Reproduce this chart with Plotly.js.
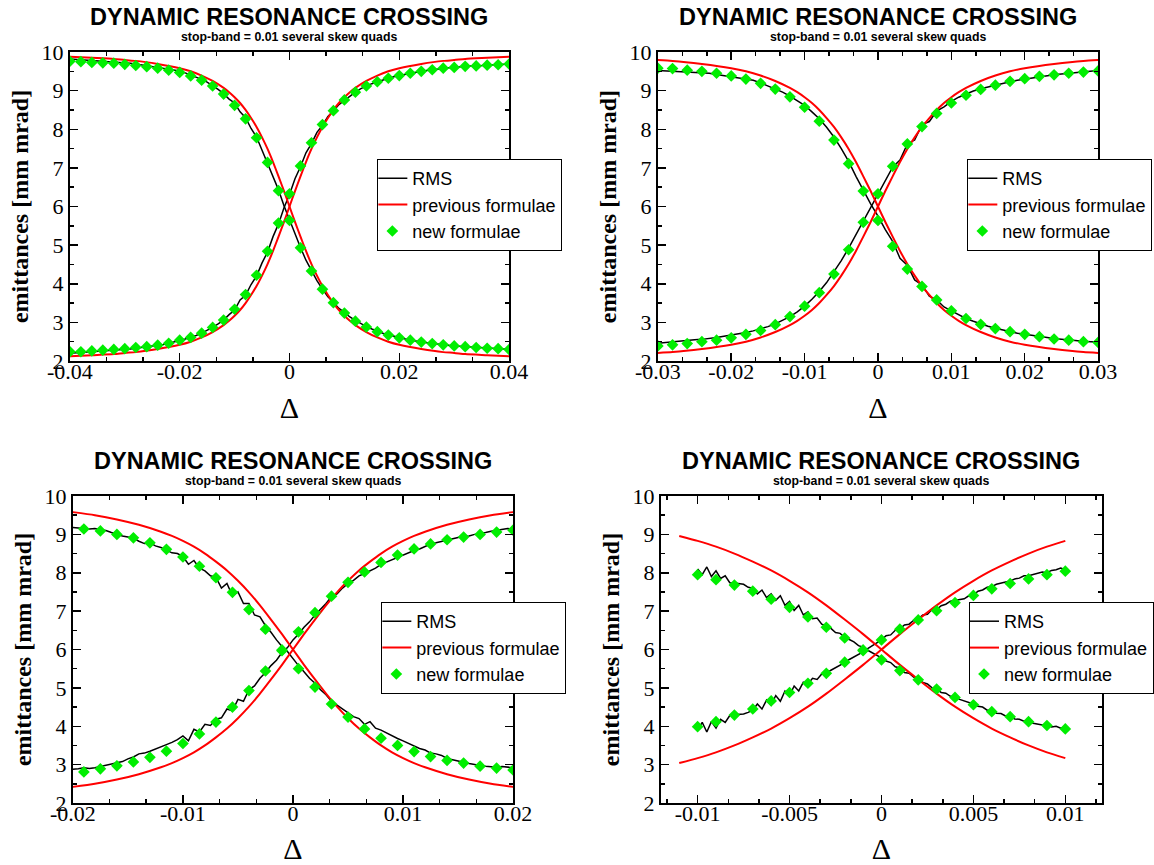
<!DOCTYPE html>
<html>
<head>
<meta charset="utf-8">
<script src="https://cdn.plot.ly/plotly-3.0.1.min.js"></script>
<style>
  html, body { margin: 0; padding: 0; background: #ffffff; }
  #chart { width: 1154px; height: 865px; }
</style>
</head>
<body>
<div id="chart"></div>
<script>
// ---------- data ----------
// Emittances [mm mrad] versus tune distance Delta, four scans with stop-band 0.01.

// "previous formulae": one shared table, each panel shows its own span of it
const prevX   = [-0.040,-0.036,-0.032,-0.030,-0.028,-0.024,-0.020,-0.018,-0.016,-0.014,-0.012,-0.011,-0.010,-0.009,-0.008,-0.007,-0.006,-0.005,-0.004,-0.003,-0.002,-0.001,0,0.001,0.002,0.003,0.004,0.005,0.006,0.007,0.008,0.009,0.010,0.011,0.012,0.014,0.016,0.018,0.020,0.024,0.028,0.030,0.032,0.036,0.040];
const prevDec = [9.88,9.85,9.82,9.79,9.77,9.69,9.58,9.50,9.39,9.25,9.07,8.96,8.83,8.68,8.50,8.29,8.06,7.79,7.49,7.15,6.78,6.40,6.00,5.60,5.22,4.85,4.51,4.21,3.94,3.71,3.50,3.32,3.17,3.04,2.93,2.75,2.61,2.50,2.42,2.31,2.23,2.21,2.18,2.15,2.12];
const prevInc = [2.12,2.15,2.18,2.21,2.23,2.31,2.42,2.50,2.61,2.75,2.93,3.04,3.17,3.32,3.50,3.71,3.94,4.21,4.51,4.85,5.22,5.60,6.00,6.40,6.78,7.15,7.49,7.79,8.06,8.29,8.50,8.68,8.83,8.96,9.07,9.25,9.39,9.50,9.58,9.69,9.77,9.79,9.82,9.85,9.88];

// panel 1: Delta from -0.04 to 0.04
const p1PrevSpan = [-0.04, 0.04];
const p1RmsX0 = -0.04, p1RmsDx = 0.001;
const p1RmsDec = [9.82,9.81,9.81,9.80,9.79,9.78,9.77,9.76,9.75,9.74, 9.72,9.71,9.69,9.67,9.65,9.63,9.61,9.58,9.56,9.54, 9.51,9.46,9.41,9.35,9.29,9.22,9.13,9.03,8.92,8.78, 8.68,8.45,8.30,8.02,7.80,7.46,7.16,6.78,6.43,6.02, 5.66,5.27,4.94,4.61,4.33,4.08,3.86,3.66,3.52,3.36, 3.26,3.14,3.05,2.96,2.89,2.83,2.77,2.72,2.68,2.64, 2.60,2.57,2.54,2.52,2.49,2.47,2.45,2.44,2.42,2.41, 2.39,2.38,2.37,2.36,2.35,2.34,2.33,2.33,2.32,2.31, 2.31];
const p1RmsInc = [2.20,2.21,2.21,2.22,2.23,2.24,2.25,2.26,2.27,2.28, 2.30,2.31,2.33,2.35,2.36,2.38,2.40,2.43,2.46,2.49, 2.53,2.57,2.61,2.66,2.72,2.79,2.87,2.96,3.06,3.20, 3.32,3.58,3.70,3.98,4.20,4.54,4.82,5.22,5.55,5.97, 6.31,6.72,7.03,7.39,7.63,7.92,8.10,8.33,8.47,8.64, 8.75,8.87,8.96,9.05,9.12,9.18,9.23,9.28,9.32,9.36, 9.39,9.42,9.45,9.48,9.50,9.52,9.54,9.56,9.58,9.59, 9.60,9.62,9.63,9.64,9.64,9.65,9.66,9.67,9.67,9.68, 9.69];
const p1NewX0 = -0.04, p1NewDx = 0.002;
const p1NewDec = [9.76,9.75,9.73,9.72,9.71,9.68,9.65,9.62,9.58,9.53, 9.47,9.38,9.27,9.12,8.91,8.62,8.27,7.78,7.14,6.41, 5.64,4.93,4.33,3.86,3.51,3.24,3.03,2.88,2.76,2.67, 2.60,2.54,2.49,2.45,2.42,2.39,2.37,2.35,2.33,2.32, 2.30];
const p1NewInc = [2.24,2.24,2.26,2.28,2.30,2.32,2.35,2.37,2.41,2.46, 2.54,2.61,2.72,2.87,3.06,3.34,3.72,4.22,4.84,5.57, 6.33,7.05,7.65,8.12,8.48,8.76,8.96,9.12,9.23,9.32, 9.39,9.45,9.50,9.54,9.58,9.60,9.63,9.64,9.66,9.67, 9.69];
const p1TickVals = [-0.04, -0.02, 0, 0.02, 0.04];
const p1TickText = ['-0.04', '-0.02', '0', '0.02', '0.04'];

// panel 2: Delta from -0.03 to 0.03
const p2PrevSpan = [-0.03, 0.03];
const p2RmsX0 = -0.03, p2RmsDx = 0.001;
const p2RmsDec = [9.52,9.51,9.50,9.49,9.48,9.47,9.47,9.45,9.42,9.39, 9.37,9.34,9.30,9.27,9.20,9.12,9.05,8.96,8.86,8.73, 8.62,8.45,8.27,8.05,7.80,7.50,7.17,6.78,6.42,6.07, 5.75,5.40,5.10,4.66,4.48,4.10,3.97,3.68,3.58,3.40, 3.30,3.19,3.10,3.03,2.96,2.90,2.85,2.80,2.76,2.72, 2.69,2.66,2.63,2.61,2.58,2.56,2.54,2.53,2.51,2.50, 2.49];
const p2RmsInc = [2.46,2.48,2.50,2.52,2.53,2.55,2.56,2.58,2.61,2.64, 2.67,2.70,2.74,2.78,2.83,2.89,2.96,3.05,3.15,3.27, 3.42,3.60,3.80,4.03,4.30,4.60,4.92,5.27,5.62,5.98, 6.33,6.65,7.02,7.20,7.62,7.72,8.12,8.20,8.47,8.58, 8.72,8.83,8.92,8.99,9.05,9.10,9.15,9.19,9.23,9.27, 9.30,9.33,9.36,9.39,9.41,9.43,9.45,9.47,9.49,9.51, 9.52];
const p2NewX0 = -0.03, p2NewDx = 0.002;
const p2NewDec = [9.58,9.57,9.53,9.50,9.45,9.38,9.30,9.19,9.04,8.84, 8.57,8.21,7.72,7.11,6.40,5.64,4.97,4.38,3.93,3.58, 3.30,3.10,2.95,2.84,2.76,2.69,2.63,2.57,2.54,2.50, 2.48];
const p2NewInc = [2.39,2.42,2.45,2.50,2.54,2.60,2.69,2.79,2.94,3.15, 3.42,3.77,4.25,4.88,5.59,6.33,7.04,7.62,8.07,8.41, 8.68,8.88,9.03,9.14,9.24,9.31,9.37,9.41,9.45,9.48, 9.51];
const p2TickVals = [-0.03, -0.02, -0.01, 0, 0.01, 0.02, 0.03];
const p2TickText = ['-0.03', '-0.02', '-0.01', '0', '0.01', '0.02', '0.03'];

// panel 3: Delta from -0.02 to 0.02
const p3PrevSpan = [-0.02, 0.02];
const p3RmsX0 = -0.02, p3RmsDx = 0.0005;
const p3RmsDec = [9.18,9.16,9.15,9.14,9.15,9.12,9.10,9.05,9.00,8.96, 8.93,8.90,8.82,8.76,8.78,8.70,8.66,8.60,8.52,8.50, 8.42,8.22,8.32,8.12,8.05,7.92,7.88,7.60,7.72,7.40, 7.50,7.20,7.20,6.90,6.85,6.62,6.45,6.25,6.08,5.95, 5.75,5.58,5.42,5.25,5.12,4.95,4.82,4.65,4.55,4.45, 4.35,4.25,4.20,4.05,4.12,3.95,3.90,3.82,3.75,3.68, 3.62,3.55,3.48,3.42,3.38,3.30,3.28,3.24,3.16,3.12, 3.10,3.06,3.03,3.00,2.98,2.96,2.95,2.93,2.95,2.94, 2.92];
const p3RmsInc = [2.88,2.89,2.92,2.90,2.92,2.95,2.98,3.00,3.05,3.08, 3.15,3.20,3.28,3.30,3.35,3.40,3.45,3.52,3.58,3.65, 3.75,3.62,3.92,3.85,4.05,4.02,4.18,4.22,4.45,4.40, 4.70,4.65,4.95,5.05,5.25,5.40,5.58,5.72,5.92,6.05, 6.25,6.40,6.58,6.72,6.90,7.05,7.20,7.38,7.45,7.60, 7.72,7.80,7.92,7.98,8.05,8.12,8.22,8.28,8.35,8.40, 8.45,8.52,8.58,8.62,8.68,8.75,8.78,8.82,8.85,8.88, 8.92,8.95,8.96,9.00,9.02,9.05,9.08,9.10,9.12,9.15, 9.14];
const p3NewX0 = -0.019, p3NewDx = 0.0015;
const p3NewDec = [9.14,9.09,9.00,8.91,8.78,8.61,8.41,8.17,7.87,7.49, 7.04,6.53,5.99,5.50,5.02,4.58,4.24,3.93,3.69,3.50, 3.34,3.21,3.11,3.04,2.96,2.91,2.86];
const p3NewInc = [2.81,2.89,2.97,3.07,3.19,3.35,3.55,3.80,4.11,4.50, 4.93,5.44,5.97,6.46,6.96,7.39,7.75,8.02,8.27,8.46, 8.62,8.75,8.86,8.93,9.00,9.06,9.11];
const p3TickVals = [-0.02, -0.01, 0, 0.01, 0.02];
const p3TickText = ['-0.02', '-0.01', '0', '0.01', '0.02'];

// panel 4: Delta from -0.01 to 0.01
const p4PrevSpan = [-0.011, 0.010];
const p4RmsX0 = -0.01, p4RmsDx = 0.00025;
const p4RmsDec = [8.10,7.95,8.15,7.90,8.05,7.85,7.92,7.74,7.73,7.72, 7.70,7.62,7.60,7.45,7.55,7.35,7.45,7.28,7.40,7.15, 7.25,7.02,7.15,6.90,6.98,6.80,6.82,6.66,6.62,6.55, 6.44,6.42,6.32,6.26,6.20,6.10,6.06,5.98,5.92,5.86, 5.78,5.70,5.66,5.55,5.52,5.40,5.38,5.28,5.24,5.14, 5.10,5.00,4.96,4.88,4.86,4.78,4.76,4.70,4.66,4.62, 4.58,4.52,4.50,4.42,4.42,4.34,4.33,4.27,4.26,4.19, 4.18,4.13,4.14,4.08,4.06,4.03,4.04,3.98,4.00,3.95, 3.98];
const p4RmsInc = [3.90,4.10,3.85,4.12,3.95,4.18,4.10,4.28,4.30,4.31, 4.32,4.36,4.42,4.58,4.45,4.68,4.55,4.80,4.65,4.92, 4.80,5.05,4.92,5.15,5.10,5.25,5.22,5.36,5.38,5.46, 5.52,5.60,5.66,5.74,5.80,5.86,5.94,6.02,6.10,6.18, 6.25,6.36,6.38,6.50,6.54,6.64,6.66,6.76,6.80,6.90, 6.92,7.04,7.04,7.14,7.18,7.26,7.28,7.30,7.32,7.40, 7.42,7.52,7.55,7.62,7.64,7.70,7.74,7.76,7.78,7.84, 7.86,7.92,7.92,7.96,7.98,8.02,8.00,8.06,8.08,8.12, 8.08];
const p4NewX0 = -0.01, p4NewDx = 0.001;
const p4NewDec = [7.95,7.82,7.68,7.52,7.31,7.10,6.85,6.58,6.30,5.99, 5.73,5.45,5.21,4.97,4.75,4.56,4.38,4.25,4.12,4.02, 3.93];
const p4NewInc = [3.99,4.12,4.29,4.45,4.66,4.88,5.12,5.38,5.67,5.97, 6.25,6.53,6.77,7.01,7.22,7.41,7.58,7.72,7.84,7.95, 8.04];
const p4TickVals = [-0.01, -0.005, 0, 0.005, 0.01];
const p4TickText = ['-0.01', '-0.005', '0', '0.005', '0.01'];

const yTickVals = [2, 3, 4, 5, 6, 7, 8, 9, 10];
const seriesNames = ['RMS', 'previous formulae', 'new formulae'];
const plotTitle = 'DYNAMIC RESONANCE CROSSING';
const plotSubtitle = 'stop-band = 0.01 several skew quads';
const xTitle = '\u0394';
const yTitle = 'emittances [mm mrad]';

// ---------- layout geometry (pixels in a 1154 x 865 page) ----------
const W = 1154, H = 865;
const SERIF = 'Liberation Serif';
const SANS = 'Liberation Sans';

const panels = [
  { box: [70, 52, 510, 361],  xr: [-0.04, 0.04],   minor: 0.02 / 3,  legendAt: [378, 159],
    span: p1PrevSpan, rms: [p1RmsX0, p1RmsDx, p1RmsDec, p1RmsInc], nf: [p1NewX0, p1NewDx, p1NewDec, p1NewInc], ticks: [p1TickVals, p1TickText] },
  { box: [659, 52, 1100, 361], xr: [-0.03, 0.03],  minor: 0.01 / 3,  legendAt: [969, 159],
    span: p2PrevSpan, rms: [p2RmsX0, p2RmsDx, p2RmsDec, p2RmsInc], nf: [p2NewX0, p2NewDx, p2NewDec, p2NewInc], ticks: [p2TickVals, p2TickText] },
  { box: [73, 496, 514, 803],  xr: [-0.02, 0.02],   minor: 0.01 / 3,  legendAt: [382, 602],
    span: p3PrevSpan, rms: [p3RmsX0, p3RmsDx, p3RmsDec, p3RmsInc], nf: [p3NewX0, p3NewDx, p3NewDec, p3NewInc], ticks: [p3TickVals, p3TickText] },
  { box: [662, 496, 1104, 803], xr: [-0.012, 0.012], minor: 0.005 / 3, legendAt: [971, 602],
    span: p4PrevSpan, rms: [p4RmsX0, p4RmsDx, p4RmsDec, p4RmsInc], nf: [p4NewX0, p4NewDx, p4NewDec, p4NewInc], ticks: [p4TickVals, p4TickText] }
];

const traces = [];
const layout = {
  width: W, height: H,
  margin: { l: 0, r: 0, t: 0, b: 0 },
  paper_bgcolor: '#ffffff', plot_bgcolor: '#ffffff',
  font: { family: SANS, color: '#000000' },
  showlegend: true,
  annotations: []
};

panels.forEach((p, i) => {
  const k = i === 0 ? '' : String(i + 1);
  const xa = 'x' + k, ya = 'y' + k;
  const lg = 'legend' + k;
  const [left, top, right, bottom] = p.box;

  // previous formulae: the part of the shared table inside this panel's span
  const sx = [], sDec = [], sInc = [];
  prevX.forEach((x, j) => {
    if (x >= p.span[0] - 1e-9 && x <= p.span[1] + 1e-9) { sx.push(x); sDec.push(prevDec[j]); sInc.push(prevInc[j]); }
  });

  const [rx0, rdx, rDec, rInc] = p.rms;
  const [nx0, ndx, nDec, nInc] = p.nf;

  const rmsLine = { color: '#000000', width: 1.5 };
  const prevLine = { color: '#ff0000', width: 2, shape: 'spline', smoothing: 0.6 };
  const diamond = { symbol: 'diamond', size: 9, color: '#00ee00', line: { width: 0 } };

  traces.push(
    { type: 'scatter', mode: 'lines', name: seriesNames[0], x0: rx0, dx: rdx, y: rDec, line: rmsLine, xaxis: xa, yaxis: ya, legend: lg, showlegend: true, hoverinfo: 'skip' },
    { type: 'scatter', mode: 'lines', name: seriesNames[0], x0: rx0, dx: rdx, y: rInc, line: rmsLine, xaxis: xa, yaxis: ya, legend: lg, showlegend: false, hoverinfo: 'skip' },
    { type: 'scatter', mode: 'lines', name: seriesNames[1], x: sx, y: sDec, line: prevLine, xaxis: xa, yaxis: ya, legend: lg, showlegend: true, hoverinfo: 'skip' },
    { type: 'scatter', mode: 'lines', name: seriesNames[1], x: sx, y: sInc, line: prevLine, xaxis: xa, yaxis: ya, legend: lg, showlegend: false, hoverinfo: 'skip' },
    { type: 'scatter', mode: 'markers', name: seriesNames[2], x0: nx0, dx: ndx, y: nDec, marker: diamond, xaxis: xa, yaxis: ya, legend: lg, showlegend: true, hoverinfo: 'skip' },
    { type: 'scatter', mode: 'markers', name: seriesNames[2], x0: nx0, dx: ndx, y: nInc, marker: diamond, xaxis: xa, yaxis: ya, legend: lg, showlegend: false, hoverinfo: 'skip' }
  );

  const common = {
    showline: true, linewidth: 2, linecolor: '#000000', mirror: 'ticks',
    ticks: 'inside', ticklen: 8, tickwidth: 1.5, tickcolor: '#000000',
    showgrid: false, zeroline: false, fixedrange: true,
    tickfont: { family: SERIF, size: 22, color: '#000000' }
  };

  layout['xaxis' + k] = Object.assign({}, common, {
    domain: [left / W, right / W], anchor: ya,
    range: p.xr, tickmode: 'array', tickvals: p.ticks[0], ticktext: p.ticks[1],
    ticklabelstandoff: -10,
    minor: { ticks: 'inside', ticklen: 4, tickwidth: 1.5, tickcolor: '#000000', tick0: 0, dtick: p.minor },
    title: { text: xTitle, font: { family: SERIF, size: 30, color: '#000000' }, standoff: 14 }
  });
  layout['yaxis' + k] = Object.assign({}, common, {
    domain: [1 - bottom / H, 1 - top / H], anchor: xa,
    range: [2, 10], tickmode: 'array', tickvals: yTickVals,
    minor: { ticks: 'inside', ticklen: 4, tickwidth: 1.5, tickcolor: '#000000', tick0: 0, dtick: 0.5 },
    title: { text: yTitle, font: { family: SERIF, size: 24, color: '#000000', weight: 'bold' }, standoff: 6 }
  });

  layout[lg] = {
    x: p.legendAt[0] / W, y: 1 - p.legendAt[1] / H, xanchor: 'left', yanchor: 'top',
    xref: 'paper', yref: 'paper',
    bgcolor: '#ffffff', bordercolor: '#000000', borderwidth: 1,
    font: { family: SANS, size: 18, color: '#000000' },
    tracegroupgap: 0, indentation: -6
  };

  const cx = (left + right) / 2 / W;
  layout.annotations.push(
    { xref: 'paper', yref: 'paper', x: cx, y: 1 - (top - 35) / H, xanchor: 'center', yanchor: 'middle',
      text: plotTitle, showarrow: false, font: { family: SANS, size: 23.5, color: '#000000', weight: 'bold' } },
    { xref: 'paper', yref: 'paper', x: cx, y: 1 - (top - 15.5) / H, xanchor: 'center', yanchor: 'middle',
      text: plotSubtitle, showarrow: false, font: { family: SANS, size: 12.3, color: '#000000', weight: 'bold' } }
  );
});

Plotly.newPlot('chart', traces, layout, { staticPlot: true, displayModeBar: false });
</script>
</body>
</html>
